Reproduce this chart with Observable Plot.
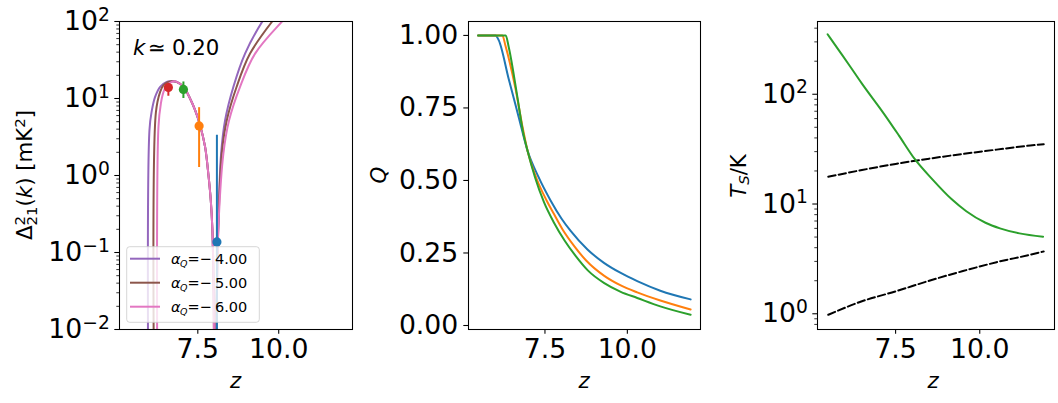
<!DOCTYPE html>
<html><head><meta charset="utf-8">
<script src="https://cdn.jsdelivr.net/npm/d3@7"></script>
<script src="https://cdn.jsdelivr.net/npm/@observablehq/plot@0.6"></script>
<style>
html,body{margin:0;padding:0;background:#fff;}
#wrap{position:relative;width:1058px;height:403px;overflow:hidden;background:#fff;}
#wrap > svg{position:absolute;top:0;}
</style></head><body><div id="wrap"></div>
<script>
// ---------- colours (matplotlib tab10) ----------
const cBlue = "#1f77b4", cOrange = "#ff7f0e", cGreen = "#2ca02c", cRed = "#d62728",
      cPurple = "#9467bd", cBrown = "#8c564b", cPink = "#e377c2";

// ---------- panel 1 : Delta^2_21(k) ----------
const alphaQ = [-4.0, -5.0, -6.0];
const alphaColors = [cPurple, cBrown, cPink];
// shared falling part of the three curves
const zFall = [6.85, 7.055, 7.26, 7.416, 7.57, 7.725, 7.83, 7.9, 7.95, 7.99, 8.03];
const dFall = [16.4, 14.2, 10.0, 7.05, 4.5, 2.35, 1.0, 0.48, 0.2, 0.03, 1e-4];
// rise (before peak) per curve
const zRisePurple = [6.0, 6.006, 6.08, 6.18, 6.336, 6.54, 6.645, 6.75];
const dRisePurple = [1e-5, 3.9, 7.0, 10.5, 14.2, 16.4, 16.8, 16.8];
const zRiseBrown = [6.2, 6.203, 6.336, 6.44, 6.59, 6.7];
const dRiseBrown = [1e-5, 6.5, 12.2, 14.9, 16.4, 16.8];
const zRisePink = [6.28, 6.284, 6.358, 6.44, 6.54, 6.70, 6.77];
const dRisePink = [1e-5, 4.3, 8.6, 12.2, 14.9, 16.4, 16.8];
// second rise (after the dip) per curve
const zUpPurple = [8.075, 8.136, 8.22, 8.342, 8.6, 8.96, 9.52, 10.2];
const zUpBrown = [8.08, 8.14, 8.24, 8.395, 8.70, 9.114, 9.83, 10.6];
const zUpPink = [8.085, 8.145, 8.29, 8.466, 8.805, 9.27, 10.14, 11.0];
const dUp = [0.02, 0.26, 1.93, 5.2, 14.2, 38.3, 104, 250];

// measurements with error bars
const obsZ = [6.59, 7.055, 7.54, 8.09];
const obsVal = [13.9, 13.1, 4.4, 0.137];
const obsLo = [10.7, 10.0, 1.27, 1e-4];
const obsHi = [15.7, 16.4, 7.6, 3.34];
const obsColor = [cRed, cGreen, cOrange, cBlue];

const leftTicks = [0.01, 0.1, 1, 10, 100];
const kLabel = "0.20";

// ---------- panel 2 : Q ----------
const zQBlue = [5.47, 6.0, 6.1, 6.4, 6.7, 6.97, 7.3, 7.67, 8.0, 8.28, 8.79, 9.29, 9.8, 10.3, 11.0, 11.92];
const qBlue = [1, 1, 0.983, 0.85, 0.72, 0.603, 0.513, 0.431, 0.369, 0.326, 0.262, 0.216, 0.181, 0.153, 0.120, 0.090];
const zQOrange = [5.47, 6.21, 6.3, 6.6, 6.81, 6.97, 7.25, 7.55, 7.77, 8.03, 8.4, 8.75, 9.3, 9.8, 10.3, 11.0, 11.92];
const qOrange = [1, 1, 0.965, 0.82, 0.69, 0.603, 0.505, 0.431, 0.385, 0.332, 0.272, 0.224, 0.171, 0.138, 0.114, 0.086, 0.055];
const zQGreen = [5.47, 6.31, 6.4, 6.66, 6.83, 6.97, 7.2, 7.47, 7.77, 8.1, 8.43, 8.8, 9.3, 9.8, 10.3, 11.0, 11.92];
const qGreen = [1, 1, 0.96, 0.79, 0.67, 0.603, 0.51, 0.425, 0.355, 0.292, 0.24, 0.19, 0.146, 0.116, 0.095, 0.066, 0.037];
const qTicks = [0, 0.25, 0.5, 0.75, 1.0];

// ---------- panel 3 : T_S ----------
const zTs = [5.48, 5.8, 6.14, 6.5, 7.15, 7.6, 8.06, 8.6, 9.16, 9.6, 10.17, 10.6, 11.18, 11.88];
const tsVal = [352, 255, 181, 125, 66.7, 42, 25.9, 16.7, 11.1, 8.6, 6.75, 6.0, 5.40, 5.04];
const zRef = [5.5, 6.5, 7.5, 8.5, 9.5, 10.5, 11.5, 11.9];
const tCmb = [17.7, 20.4, 23.2, 25.9, 28.6, 31.3, 34.1, 35.1];
const tGas = [0.98, 1.3, 1.6, 2.0, 2.45, 2.95, 3.45, 3.7];
const tsTicks = [1, 10, 100];

const xTicks = [7.5, 10.0];

// ---------- helpers ----------
const zip = (xs, ys) => xs.map((x, i) => ({x, y: ys[i]}));
const powFmt = d => "10^" + Math.round(Math.log10(d));
function minors(lo, hi, domain) {
  const out = [];
  for (let e = lo; e <= hi; e++) for (let m = 2; m <= 9; m++) {
    const v = m * Math.pow(10, e);
    if (v >= domain[0] && v <= domain[1]) out.push(v);
  }
  return out;
}
const FONT = "DejaVu Sans";
const TICK = 26.7, LAB = 21.3;
const style = {fontFamily: FONT, fontSize: TICK + "px", color: "black", background: "white"};
const xAxis = () => Plot.axisX({ticks: xTicks, tickFormat: d3.format(".1f"), tickSize: 4.7, tickPadding: 5.2, label: null, strokeWidth: 1.07});

function fixPowers(svg) {
  d3.select(svg).selectAll("text").filter(function () { return this.textContent.includes("^"); })
    .each(function () {
      const [b, e] = this.textContent.split("^");
      const s = d3.select(this); s.text(null);
      s.append("tspan").text(b);
      s.append("tspan").attr("font-size", 18.7).attr("dy", -9.5).text(e.replace("-", "\u2212"));
    });
}

function richText(svg, o) {
  const t = d3.select(svg).append("text")
    .attr("font-family", FONT).attr("font-size", o.size || LAB).attr("fill", "black")
    .attr("text-anchor", o.anchor || "start");
  if (o.rotate) t.attr("transform", `translate(${o.x},${o.y}) rotate(${o.rotate})`);
  else t.attr("x", o.x).attr("y", o.y);
  let shift = 0;
  for (const p of o.parts) {
    const s = t.append("tspan").text(p.t);
    const target = p.shift || 0;
    if (target !== shift) { s.attr("dy", target - shift); shift = target; }
    if (p.i) s.attr("font-style", "italic");
    if (p.s) s.attr("font-size", p.s);
    if (p.dx) s.attr("dx", p.dx);
    if (p.x != null) s.attr("x", p.x);
  }
  return t;
}

const wrap = document.getElementById("wrap");

// ================= Panel 1 =================
{
  const xDom = [5.08, 12.28], yDom = [1e-2, 1e2];
  const series = [
    zip(zRisePurple.concat(zFall, zUpPurple), dRisePurple.concat(dFall, dUp)),
    zip(zRiseBrown.concat(zFall, zUpBrown), dRiseBrown.concat(dFall, dUp)),
    zip(zRisePink.concat(zFall, zUpPink), dRisePink.concat(dFall, dUp))
  ];
  const obs = obsZ.map((z, i) => ({z, v: obsVal[i], lo: obsLo[i], hi: obsHi[i], c: obsColor[i]}));
  const p = Plot.plot({
    width: 360, height: 403, marginLeft: 119, marginRight: 8, marginTop: 21, marginBottom: 74,
    x: {domain: xDom}, y: {type: "log", domain: yDom}, color: {type: "identity"},
    style,
    marks: [
      ...series.map((s, i) => Plot.line(s, {x: "x", y: "y", stroke: alphaColors[i], strokeWidth: 2, curve: "catmull-rom", clip: true})),
      Plot.ruleX(obs, {x: "z", y1: "lo", y2: "hi", stroke: "c", strokeWidth: 2, clip: true}),
      Plot.dot(obs, {x: "z", y: "v", fill: "c", r: 4.6, stroke: null, clip: true}),
      Plot.axisY({ticks: minors(-2, 1, yDom), tickSize: 2.7, tickFormat: () => "", label: null, strokeWidth: 0.8}),
      Plot.axisY({ticks: leftTicks, tickFormat: powFmt, tickSize: 4.7, tickPadding: 5, label: null, strokeWidth: 1.07}),
      xAxis(),
      Plot.frame({stroke: "black", strokeWidth: 1.07})
    ]
  });
  p.style.left = "0px";
  wrap.appendChild(p);
  fixPowers(p);
  // legend
  const g = d3.select(p).append("g");
  g.append("rect").attr("x", 126.7).attr("y", 246.7).attr("width", 132.6).attr("height", 75.6)
    .attr("rx", 3).attr("fill", "white").attr("fill-opacity", 0.8).attr("stroke", "#cccccc").attr("stroke-opacity", 0.8);
  alphaQ.forEach((a, i) => {
    const yy = 258.7 + 24 * i;
    g.append("line").attr("x1", 130).attr("x2", 160).attr("y1", yy).attr("y2", yy)
      .attr("stroke", alphaColors[i]).attr("stroke-width", 2);
    richText(p, {x: 171, y: yy + 5.3, size: 14.5, parts: [
      {t: "α", i: true},
      {t: "Q", i: true, s: 9.5, shift: 3, x: 180},
      {t: "=", x: 187.5, shift: 0},
      {t: "\u2212", x: 199.5},
      {t: Math.abs(a).toFixed(2), x: 215}
    ]});
  });
  // k label
  richText(p, {x: 133, y: 55, parts: [
    {t: "k", i: true}, {t: "\u2243", x: 148}, {t: kLabel, x: 172}
  ]});
  // y label
  richText(p, {x: 32, y: 175, rotate: -90, anchor: "middle", parts: [
    {t: "Δ"}, {t: "2", s: 14.9, shift: -7.5}, {t: "21", s: 14.9, shift: 4.5, dx: -9.5},
    {t: "(", shift: 0}, {t: "k", i: true}, {t: ") [mK"}, {t: "2", s: 14.9, shift: -7.5}, {t: "]", shift: 0}
  ]});
  richText(p, {x: 235.5, y: 388, anchor: "middle", parts: [{t: "z", i: true}]});
}

// ================= Panel 2 =================
{
  const xDom = [5.18, 12.22], yDom = [-0.0138, 1.048];
  const series = [zip(zQBlue, qBlue), zip(zQOrange, qOrange), zip(zQGreen, qGreen)];
  const cols = [cBlue, cOrange, cGreen];
  const p = Plot.plot({
    width: 345, height: 403, marginLeft: 108, marginRight: 5, marginTop: 21, marginBottom: 74,
    x: {domain: xDom}, y: {domain: yDom},
    style,
    marks: [
      ...series.map((s, i) => Plot.line(s, {x: "x", y: "y", stroke: cols[i], strokeWidth: 2, curve: "monotone-x", clip: true})),
      Plot.axisY({ticks: qTicks, tickFormat: d3.format(".2f"), tickSize: 4.7, tickPadding: 5.5, label: null, strokeWidth: 1.07}),
      xAxis(),
      Plot.frame({stroke: "black", strokeWidth: 1.07})
    ]
  });
  p.style.left = "360px";
  wrap.appendChild(p);
  richText(p, {x: 25.5, y: 175, rotate: -90, anchor: "middle", parts: [{t: "Q", i: true}]});
  richText(p, {x: 224, y: 388, anchor: "middle", parts: [{t: "z", i: true}]});
}

// ================= Panel 3 =================
{
  const xDom = [5.18, 12.22], yDom = [0.719, 460];
  const p = Plot.plot({
    width: 353, height: 403, marginLeft: 112, marginRight: 4, marginTop: 21, marginBottom: 74,
    x: {domain: xDom}, y: {type: "log", domain: yDom},
    style,
    marks: [
      Plot.line(zip(zRef, tCmb), {x: "x", y: "y", stroke: "black", strokeWidth: 2, strokeDasharray: "7.4,3.2", curve: "monotone-x", clip: true}),
      Plot.line(zip(zRef, tGas), {x: "x", y: "y", stroke: "black", strokeWidth: 2, strokeDasharray: "7.4,3.2", curve: "monotone-x", clip: true}),
      Plot.line(zip(zTs, tsVal), {x: "x", y: "y", stroke: cGreen, strokeWidth: 2, curve: "monotone-x", clip: true}),
      Plot.axisY({ticks: minors(-1, 2, yDom), tickSize: 2.7, tickFormat: () => "", label: null, strokeWidth: 0.8}),
      Plot.axisY({ticks: tsTicks, tickFormat: powFmt, tickSize: 4.7, tickPadding: 5, label: null, strokeWidth: 1.07}),
      xAxis(),
      Plot.frame({stroke: "black", strokeWidth: 1.07})
    ]
  });
  p.style.left = "705px";
  wrap.appendChild(p);
  fixPowers(p);
  richText(p, {x: 40.5, y: 176, rotate: -90, anchor: "middle", parts: [
    {t: "T", i: true}, {t: "S", i: true, s: 14.9, shift: 3.5}, {t: "/K", shift: 0}
  ]});
  richText(p, {x: 228, y: 388, anchor: "middle", parts: [{t: "z", i: true}]});
}
</script></body></html>
